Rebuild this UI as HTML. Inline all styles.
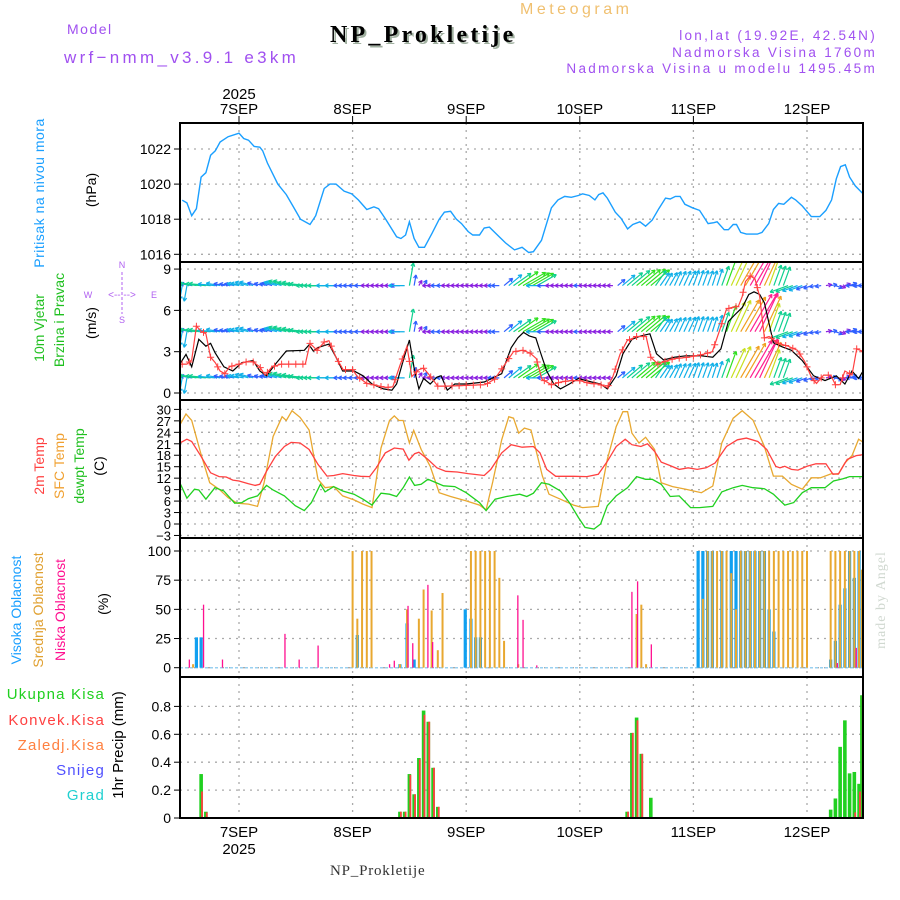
<!DOCTYPE html>
<html><head><meta charset="utf-8"><style>
html,body{margin:0;padding:0;background:#fff;}
svg{display:block;font-family:"Liberation Sans",sans-serif;}
</style></head><body>
<svg id="c" width="900" height="900" viewBox="0 0 900 900" xmlns="http://www.w3.org/2000/svg">
<g>
<text x="520" y="14" font-size="16" fill="#f0c070" letter-spacing="3.5">Meteogram</text>
<text x="67" y="34" font-size="14" fill="#a050f0" letter-spacing="1.5">Model</text>
<text x="64" y="63" font-size="17" fill="#a050f0" letter-spacing="3.3">wrf−nmm_v3.9.1 e3km</text>
<text x="332" y="44" font-size="24" font-weight="bold" font-family="Liberation Serif,serif" fill="#a0b0a0" letter-spacing="3.2">NP_Prokletije</text>
<text x="330" y="42" font-size="24" font-weight="bold" font-family="Liberation Serif,serif" fill="#000" letter-spacing="3.2">NP_Prokletije</text>
<text x="877" y="40" font-size="13.5" fill="#a050f0" text-anchor="end" letter-spacing="2.3">lon,lat (19.92E, 42.54N)</text>
<text x="877" y="57" font-size="13.5" fill="#a050f0" text-anchor="end" letter-spacing="2.3">Nadmorska Visina 1760m</text>
<text x="877" y="73" font-size="13.5" fill="#a050f0" text-anchor="end" letter-spacing="2.3">Nadmorska Visina u modelu 1495.45m</text>
</g>
<g font-size="14">
<text transform="translate(44,193) rotate(-90)" text-anchor="middle" fill="#1a9fff" letter-spacing="0.5">Pritisak na nivou mora</text>
<text transform="translate(96,190) rotate(-90)" text-anchor="middle" fill="#000">(hPa)</text>
<text transform="translate(44,328) rotate(-90)" text-anchor="middle" fill="#20c020">10m Vjetar</text>
<text transform="translate(64,320) rotate(-90)" text-anchor="middle" fill="#20c020">Brzina i Pravac</text>
<text transform="translate(96,323) rotate(-90)" text-anchor="middle" fill="#000">(m/s)</text>
<g fill="#b060f0" font-size="9">
<text x="122" y="268" text-anchor="middle">N</text><text x="122" y="323" text-anchor="middle">S</text>
<text x="88" y="298" text-anchor="middle">W</text><text x="154" y="298" text-anchor="middle">E</text>
<text x="122" y="298" text-anchor="middle" font-size="10">&lt;-- --&gt;</text>
<line x1="122" y1="272" x2="122" y2="314" stroke="#b060f0" stroke-dasharray="3,2"/>
</g>
<text transform="translate(44,466) rotate(-90)" text-anchor="middle" fill="#ff4040">2m Temp</text>
<text transform="translate(64,466) rotate(-90)" text-anchor="middle" fill="#f0a030">SFC Temp</text>
<text transform="translate(84,466) rotate(-90)" text-anchor="middle" fill="#20c020">dewpt Temp</text>
<text transform="translate(104,466) rotate(-90)" text-anchor="middle" fill="#000">(C)</text>
<text transform="translate(21,610) rotate(-90)" text-anchor="middle" fill="#1a9fff">Visoka Oblacnost</text>
<text transform="translate(43,610) rotate(-90)" text-anchor="middle" fill="#e0a030">Srednja Oblacnost</text>
<text transform="translate(65,610) rotate(-90)" text-anchor="middle" fill="#ff1090">Niska Oblacnost</text>
<text transform="translate(108,604) rotate(-90)" text-anchor="middle" fill="#000">(%)</text>
<g text-anchor="end" font-size="15" letter-spacing="1.2">
<text x="105" y="699" fill="#20d020">Ukupna  Kisa</text>
<text x="105" y="725" fill="#ff4040">Konvek.Kisa</text>
<text x="105" y="750" fill="#ff8040">Zaledj.Kisa</text>
<text x="105" y="775" fill="#5050ff">Snijeg</text>
<text x="105" y="800" fill="#20d0d0">Grad</text>
</g>
<text transform="translate(123,745) rotate(-90)" text-anchor="middle" fill="#000" font-size="15">1hr Precip (mm)</text>
<text transform="translate(885,600) rotate(-90)" text-anchor="middle" fill="#d0d8d0" font-size="14" font-family="Liberation Serif,serif" letter-spacing="1">made by Angel</text>
<text x="330" y="875" font-size="15" font-family="Liberation Serif,serif" fill="#333" letter-spacing="0.8">NP_Prokletije</text>
</g>
<g id="plot"></g>
</svg>
<script>
// ---------- data ----------
const dayLabels = ["7SEP","8SEP","9SEP","10SEP","11SEP","12SEP"];
const presT = [-12,-11,-10,-9,-8,-7,-6,-5,-4,-2.3,0,1,2,3.2,4.4,5,6,8.2,10,11.5,13,15,16.2,18,19.2,20.5,22.2,23.8,25.2,27,28.5,29.5,31,33.3,34.2,35.2,36,37,38,39.2,40.8,42.3,43.4,44.7,45.9,47,48.4,49.4,50.8,51.8,52.9,54.6,56.3,58.2,59.8,61.2,62.2,63.9,66,67.4,68.8,70.2,71.7,72.6,74,75.2,76,76.9,77.8,79.5,80.7,82.1,83.2,84.7,85.9,87.3,88.7,90.1,91.1,92.2,93.2,94.2,95.8,97.3,99.1,100.3,101,102.5,103.4,104.4,105.1,106,107.2,109.5,110.5,111.9,112.9,114,115.1,116.7,117.6,119,120.9,122.7,124,125.2,126.2,127.1,128.1,129,130.2,132];
const presV = [1019.08,1018.93,1018.2,1018.6,1020.4,1020.65,1021.64,1021.9,1022.4,1022.7,1022.9,1022.6,1022.5,1022.15,1022.1,1021.9,1021.2,1020.0,1019.4,1018.7,1018.0,1017.7,1018.2,1019.75,1020.0,1020.0,1019.6,1019.45,1019.1,1018.55,1018.7,1018.6,1018.0,1017.0,1016.9,1017.1,1017.85,1016.9,1016.4,1016.4,1017.2,1018.0,1018.4,1018.45,1018.0,1017.75,1017.3,1017.1,1017.1,1017.5,1017.55,1017.1,1016.65,1016.25,1016.4,1016.1,1016.15,1016.8,1018.65,1019.1,1019.3,1019.25,1019.35,1019.45,1019.35,1019.1,1019.4,1019.5,1019.2,1018.4,1018.05,1017.45,1017.7,1017.85,1017.6,1017.95,1018.6,1019.2,1019.15,1019.3,1019.3,1018.85,1018.65,1018.5,1017.75,1017.8,1017.85,1017.4,1017.4,1017.7,1017.7,1017.25,1017.15,1017.15,1017.25,1017.75,1018.55,1018.9,1018.85,1019.25,1019.1,1018.75,1018.15,1018.15,1018.5,1019.1,1020.3,1021.0,1021.1,1020.4,1019.9,1019.4];

const spdT = [-12.5,-11.2,-10,-8.5,-7,-6,-5.1,-3.2,-1.3,0.6,3,4.4,5.8,7.7,10,13.8,14.8,15.7,16.7,19,20.5,21.9,24.3,26.2,28.1,30.5,32.3,33.3,34.7,36,37.1,38,39,40.4,41.8,42.7,44,45.6,48,51.8,55.5,57.5,58.9,60.1,61.3,62.7,63.6,65,66.5,67.9,69.8,71.7,74.5,76.4,77.8,79.7,81.1,83,84.9,86.8,88.2,89.7,92,94.4,97.7,100.1,101.8,103.4,104.8,106.3,107.7,108.8,110,111,112.9,114.8,116.7,119,121.4,123.8,126.2,128,129.5,130.9,132.1];
const spdV = [2.1,2.8,1.9,3.9,3.4,3.6,2.95,1.9,1.6,2.2,2.35,1.6,1.25,2.1,3.05,3.1,3.5,3.05,3.3,3.55,2.6,1.6,1.6,1.25,0.65,0.3,0.2,0.65,2.35,3.85,1.6,0.3,1.05,0.65,1.15,1.25,0.2,0.65,0.65,0.8,1.4,3.3,4.0,4.4,4.15,4.0,3.05,1.6,0.65,0.3,0.65,1.05,0.8,0.65,0.3,1.25,2.85,3.9,4.15,4.3,2.85,2.4,2.6,2.7,2.7,2.6,3.2,5.2,5.7,6.2,7.15,7.35,7.15,6.55,3.65,3.35,3.1,2.35,1.25,0.9,1.25,0.65,1.6,1.05,1.75];

const gustT = [-12.5,-11,-10,-9,-8,-7,-6,-5,-4,-3,-2,0,2,3,4.4,5.5,7,9,12,14,15,16.5,18,19,20.5,22,24,25,27,29,31,32.5,34,35.5,36.5,38,39,40,42,44,48,52,54,56,58,60,61.5,62.8,64,66,68,70,72,74,76,77.8,79,80.5,82,84,86,87,88.5,90,92,95,98,100,101.5,103,104,105.5,106.3,107,108,109,110,111,112,114,116,118,119.5,121,122,123.5,125,126,127,128,129.5,130.5,132];
const gustV = [2.1,2.1,2.4,4.85,4.5,4.3,2.6,2.2,1.6,1.4,1.9,2.1,2.3,2.25,1.9,1.3,1.9,2.1,2.1,2.1,3.6,3.1,3.7,3.8,2.6,1.7,1.7,1.2,0.7,0.55,0.4,0.45,2.0,3.4,1.2,1.7,1.8,1.4,0.5,0.5,0.55,0.6,1.0,2.0,3.0,3.1,2.9,2.5,1.0,0.6,0.8,0.9,0.9,0.7,0.65,0.4,1.2,2.8,3.8,4.1,4.1,2.6,2.1,2.3,2.5,2.6,2.8,3.0,4.5,6.1,6.2,6.3,7.0,8.1,8.5,8.3,7.0,4.0,4.1,3.6,3.4,3.1,2.3,1.1,0.7,1.3,1.3,0.6,0.6,1.6,1.3,3.2,3.0];

// wind arrow directions (math angle of arrow, degrees), every 2 hours from -12
const arrowT0 = -12;
const arrowDir = [-100,170,175,175,170,170,170,165,165,165,165,165,170,175,180,180,180,180,180,180,180,180,180,180,80,60,180,180,180,180,180,180,180,180,40,35,30,30,180,180,180,180,180,180,180,180,40,40,40,40,55,60,65,65,70,70,72,70,65,60,60,65,70,70,200,200,200,190,10,-20,20,180,180];

const tempT = [-12.5,-11,-10,-8,-6,-4.2,-2.7,-1.3,0,2,3.4,4.4,5.8,7.7,9.6,11,12.9,14.8,16.7,18.6,20,21.9,24.3,25.7,27.6,29,30.9,32.8,34.7,35.9,37.1,38,39.9,41.8,43.7,46.1,48.4,51.8,53.2,55.5,57.5,59.8,62.2,63.6,65,66.9,70.7,73.5,75.9,77.8,79.7,81.6,83,84.9,86.3,87.8,89.2,91.1,93,94.9,96.8,98.7,100.6,103,105.3,107.2,109.6,111.5,113.4,114.3,115.3,116.7,118.1,120,121.9,124,125.5,126.7,128.5,130.4,132.1];
const tempV = [21.2,22.2,21.6,17.7,13.4,12.4,12.3,11.5,11.25,10.55,10.1,10.4,13.8,17.7,20.3,21.35,21.2,19.5,15.6,12.55,12.7,13.2,12.7,12.5,12.4,14.7,18.6,19.9,19.6,16.7,18.4,18.8,16.9,14.7,13.8,13.6,13.2,12.7,14.3,18.6,20.75,20.1,20.3,18.6,14.3,12.5,12.5,12.4,13.0,16.4,20.3,22.2,20.75,20.3,21.0,19.0,16.2,15.3,14.3,14.7,14.3,14.7,16.0,20.3,22.05,22.5,21.6,19.5,15.1,14.7,15.1,14.3,14.1,15.1,15.75,15.75,13.0,13.2,16.9,17.9,18.2];
const sfcT = [-12.5,-11.2,-10,-8,-6.2,-4.2,-2.3,-0.4,2,3.9,5.3,7.2,9.1,10,11.2,12.9,14.8,16.7,18.2,20,21.9,24.3,26.2,28.1,30,31.8,32.8,33.8,34.7,36,36.9,38.5,40.4,42.3,44.7,48,50.8,52.2,53.6,55.5,57,58,59.1,60.3,61.7,64.1,65.5,67.9,70.7,72.6,75.9,77.8,79.7,81.1,82.1,83,84.5,85.9,87.8,89.2,91.6,94.4,97.7,100.1,102,104.4,106.3,108.6,111,112.9,114.8,116.7,119,120.9,122.8,125.2,126.6,128,129.5,130.9,132.1];
const sfcV = [25.9,28.8,27.1,18.2,10.8,9.1,6.9,5.45,5.2,4.6,10.8,22.9,28.1,27.1,29.65,27.9,24.6,11.7,9.5,9.8,7.35,6.3,5.2,4.3,19.9,27.1,28.3,27.1,27.1,21.2,24.5,19.5,15.1,8.2,7.2,6.05,4.95,3.7,11.0,22.05,28.1,27.7,23.8,25.1,24.6,12.55,7.8,6.5,4.95,4.3,4.6,16.9,25.5,29.4,29.4,23.8,21.2,22.7,19.5,10.8,9.8,9.1,8.2,9.95,21.2,27.7,29.65,27.2,20.3,12.55,12.55,10.4,9.1,12.1,12.1,13.2,13.0,16.0,17.9,22.2,21.2];
const dewT = [-12.5,-11,-9.4,-8.5,-7,-5.1,-3.2,-0.9,0.6,2,3.9,5.8,7.2,9.6,11.9,13.8,15.3,17.2,18.2,20,21.9,24.3,26.2,28.1,30,31.8,33.3,34.7,36,37.1,38.5,39.9,41.3,43.2,45.6,48,50.8,52.2,54.1,56.5,59.3,60.8,62.2,63.9,65.5,67.9,69.8,71.7,73.1,75,76.4,77.8,79.7,82.1,84,85.9,87.3,89.2,91.1,93,95.4,97.3,100.1,102,104.4,106.3,108.6,111,112.9,115.3,117.2,119,120.9,123.8,125.6,127.6,129,132.1];
const dewV = [10.8,6.75,9.1,8.9,6.5,9.5,8.65,5.45,5.6,6.65,7.35,10.1,8.9,7.35,4.8,3.5,5.6,10.4,8.4,9.8,8.65,7.8,6.5,4.95,8.05,7.8,7.2,9.5,12.3,10.1,10.4,11.7,11.0,10.0,9.8,8.2,5.6,3.5,6.5,7.2,7.8,7.2,8.05,10.8,10.4,8.65,5.6,1.7,-0.9,-1.3,0.0,4.8,7.35,9.5,12.4,11.7,11.7,10.4,7.2,7.35,4.3,4.3,4.6,8.4,9.5,10.1,9.5,9.25,7.8,4.95,5.6,8.2,9.5,9.5,11.25,11.85,12.4,12.4];

const highT = [-9,-8,25,34,35.5,37,47.8,49,50,51,97,98,99,100,102,104,105,106,107,108,109,110,111,112,113,125,126,127,128,129,130,131];
const highV = [26,26,28,3,38,7,50,42,26,26,100,100,100,100,100,100,100,100,100,100,100,100,100,50,31,7,23,54,68,100,77,100];
const midT = [-9.7,24,25,26,27,28,34,35.5,38,39,40.7,42,43,49,50,51,52,53,54,55,56,59,84,85,86,98,99,100,101,102,103,104,105,106,107,108,109,110,111,112,113,114,115,116,117,118,119,120,125,126,127,128,129,130,131,131.6];
const midV = [3,100,42,100,100,100,3,50,42,67,49,15,64,100,100,100,100,100,100,77,23,3,46,54,3,59,100,100,100,100,100,81,50,100,100,100,100,100,100,100,100,100,100,100,100,100,100,100,100,100,100,100,100,100,100,84];
const lowT = [-10.5,-7.5,-3.5,9.7,12.7,16.7,31.8,32.8,35.7,36.7,39.9,40.9,58.9,60,62.9,83,84.2,87.1,126.4,130.4];
const lowV = [7,54,7,29,7,19,3,6,53,21,71,22,62,41,2,65,74,20,4,17];

const rainT = [-8,-7,34,35,36,37,38,39,40,41,42,82,83,84,85,87,125,126,127,128,129,130,131,131.6];
const rainTotal = [0.315,0.045,0.045,0.045,0.315,0.17,0.43,0.77,0.69,0.36,0.08,0.045,0.61,0.72,0.46,0.145,0.06,0.14,0.51,0.70,0.32,0.33,0.245,0.88];
const rainConv = [0.19,0.04,0.045,0.045,0.31,0.17,0.42,0.74,0.69,0.36,0.08,0.045,0.61,0.70,0.46,0,0,0,0,0,0,0.04,0.19,0.88];

const presTicks = [1016,1018,1020,1022];
const windTicks = [0,3,6,9];
const tempTicks = [-3,0,3,6,9,12,15,18,21,24,27,30];
const cloudTicks = [0,25,50,75,100];
const rainTicks = [0,0.2,0.4,0.6,0.8];

// ---------- scales ----------
const X0=180, X1=863;
const xs = t => 239 + t*113.6/24;
const yP = v => 254.3 - (v-1016)*17.55;
const yW = v => 393 - v*13.77;
const yT = v => 524 - v*3.82;
const yC = v => 667.7 - v*1.167;
const yR = v => 818 - v*139.5;
const panels = [[123,262,'pressure'],[262,400,'wind'],[400,538,'temperature'],[538,677,'cloud'],[677,818,'precip']];

const NS="http://www.w3.org/2000/svg";
const plot=document.getElementById('plot');
function mk(tag,attrs,parent){const e=document.createElementNS(NS,tag);for(const k in attrs)e.setAttribute(k,attrs[k]);(parent||plot).appendChild(e);return e;}

const defs=mk('defs',{});
panels.forEach((p,i)=>{const cp=mk('clipPath',{id:'cp'+i},defs);mk('rect',{x:X0,y:p[0],width:X1-X0,height:p[1]-p[0]},cp);});

const grid=mk('g',{});


panels.forEach((p,i)=>{
  for(let d=0;d<6;d++){const x=xs(d*24);
    const l=mk('line',{x1:x,x2:x,y1:p[0],y2:p[1],stroke:'#aaa','stroke-dasharray':'2,5','stroke-width':1.3},grid);
    
    }
});
function yAxis(ticks,f,name,fs,fmt){
  const g=mk('g',{});
  
  
  ticks.forEach(v=>{const y=f(v);
    mk('line',{x1:X0,x2:X1,y1:y,y2:y,stroke:'#aaa','stroke-dasharray':'2,5','stroke-width':1.3},g);
    mk('line',{x1:X0-6,x2:X0,y1:y,y2:y,stroke:'#000'},g);
    const t=mk('text',{x:X0-9,y:y+5,'font-size':fs,'text-anchor':'end',fill:'#000'},g);
    t.textContent=fmt?fmt(v):String(v);
    
    
  });
}
yAxis(presTicks,yP,'pressure-axis',14);
yAxis(windTicks,yW,'wind-axis',14);
yAxis(tempTicks,yT,'temp-axis',13,v=>v<0?'−'+(-v):String(v));
yAxis(cloudTicks,yC,'cloud-axis',14);
yAxis(rainTicks,yR,'precip-axis',14,v=>v===0?'0':v.toFixed(1));

const xa=mk('g',{});


dayLabels.forEach((lab,i)=>{const x=xs(i*24);
  mk('line',{x1:x,x2:x,y1:116,y2:123,stroke:'#000'},xa);
  const t=mk('text',{x:x,y:114,'font-size':15,'text-anchor':'middle',fill:'#000'},xa);t.textContent=lab;
  
  
  const b=mk('text',{x:x,y:837,'font-size':15,'text-anchor':'middle',fill:'#000'},xa);b.textContent=lab;
  
  
});
{const t=mk('text',{x:xs(0),y:99,'font-size':15,'text-anchor':'middle'},xa);t.textContent='2025';
 
 
 const b=mk('text',{x:xs(0),y:854,'font-size':15,'text-anchor':'middle'},xa);b.textContent='2025';
 
 }

function line(T,V,f,color,name,clip,w){
  const d=T.map((t,i)=>(i?'L':'M')+xs(t).toFixed(1)+','+f(V[i]).toFixed(1)).join('');
  const p=mk('path',{d:d,fill:'none',stroke:color,'stroke-width':w||1.3,'clip-path':'url(#cp'+clip+')'});
  
  
  return p;
}
function interp(T,V,t){if(t<=T[0])return V[0];for(let i=1;i<T.length;i++){if(t<=T[i]){const r=(t-T[i-1])/(T[i]-T[i-1]);return V[i-1]+r*(V[i]-V[i-1]);}}return V[V.length-1];}

line(presT,presV,yP,'#1a9fff','pressure-line',0,1.4);

function spdColor(s){if(s<1)return '#8a20e0';if(s<2)return '#3060ff';if(s<3)return '#10b0e8';if(s<4)return '#10d090';if(s<5)return '#30e020';if(s<6)return '#c8e020';if(s<7)return '#f0a020';if(s<8)return '#ff2090';return '#ff2020';}
const wg=mk('g',{'clip-path':'url(#cp1)'});


[7.8,4.45,1.1].forEach(base=>{
  arrowDir.forEach((dir,i)=>{
    for(let h=0;h<2;h++){
      const t=arrowT0+i*2+h;
      const s=interp(spdT,spdV,t);
      const L=Math.max(6,s*6);
      const a=dir*Math.PI/180;
      const x0=xs(t), y0=yW(base);
      const x1=x0+L*Math.cos(a), y1=y0-L*Math.sin(a);
      const c=spdColor(s);
      const ar=mk('path',{d:`M${x0},${y0}L${x1},${y1}M${x1},${y1}L${x1-4*Math.cos(a-0.5)},${y1+4*Math.sin(a-0.5)}M${x1},${y1}L${x1-4*Math.cos(a+0.5)},${y1+4*Math.sin(a+0.5)}`,stroke:c,'stroke-width':1.2,fill:'none'},wg);
      
      
    }
  });
});
line(spdT,spdV,yW,'#000','wind-speed-line',1,1.2);
line(gustT,gustV,yW,'#ff4040','wind-gust-line',1,1.2);
const gm=mk('g',{'clip-path':'url(#cp1)'});


for(let t=-12;t<=132;t+=1.5){const v=interp(gustT,gustV,t);const x=xs(t),y=yW(v);
  const m=mk('path',{d:`M${x-3.5},${y}L${x+3.5},${y}M${x},${y-3.5}L${x},${y+3.5}`,stroke:'#ff4040','stroke-width':1},gm);
  
  }

line(sfcT,sfcV,yT,'#e8a830','sfc-temp-line',2,1.3);
line(tempT,tempV,yT,'#ff4040','temp-2m-line',2,1.3);
line(dewT,dewV,yT,'#20d020','dewpoint-line',2,1.3);

function bars(T,V,f,color,w,off,name,clip){
  const g=mk('g',{'clip-path':'url(#cp'+clip+')'});
  
  
  T.forEach((t,i)=>{if(V[i]<=0)return;const y=f(V[i]);
    const r=mk('rect',{x:xs(t)+off,y:y,width:w,height:f(0)-y,fill:color},g);
    
    });
}
mk('line',{x1:X0,x2:X1,y1:yC(0),y2:yC(0),stroke:'#9ad0f0','stroke-width':1.5,'stroke-dasharray':'3,2'});
bars(highT,highV,yC,'#10a0f0',3.2,-1.6,'high-cloud',3);
bars(midT,midV,yC,'#e8a830',2,-1,'mid-cloud',3);
bars(lowT,lowV,yC,'#ff1090',1.3,-0.6,'low-cloud',3);

mk('line',{x1:X0,x2:X1,y1:yR(0),y2:yR(0),stroke:'#000','stroke-width':2,'stroke-dasharray':'4,1'});
bars(rainT,rainTotal,yR,'#20d020',3.6,-1.8,'total-rain',4);
bars(rainT,rainConv,yR,'#ff4040',1.8,0,'convective-rain',4);

panels.forEach((p,i)=>{const r=mk('rect',{x:X0,y:p[0],width:X1-X0,height:p[1]-p[0],fill:'none',stroke:'#000','stroke-width':2});
  
  });
</script>
</body></html>
